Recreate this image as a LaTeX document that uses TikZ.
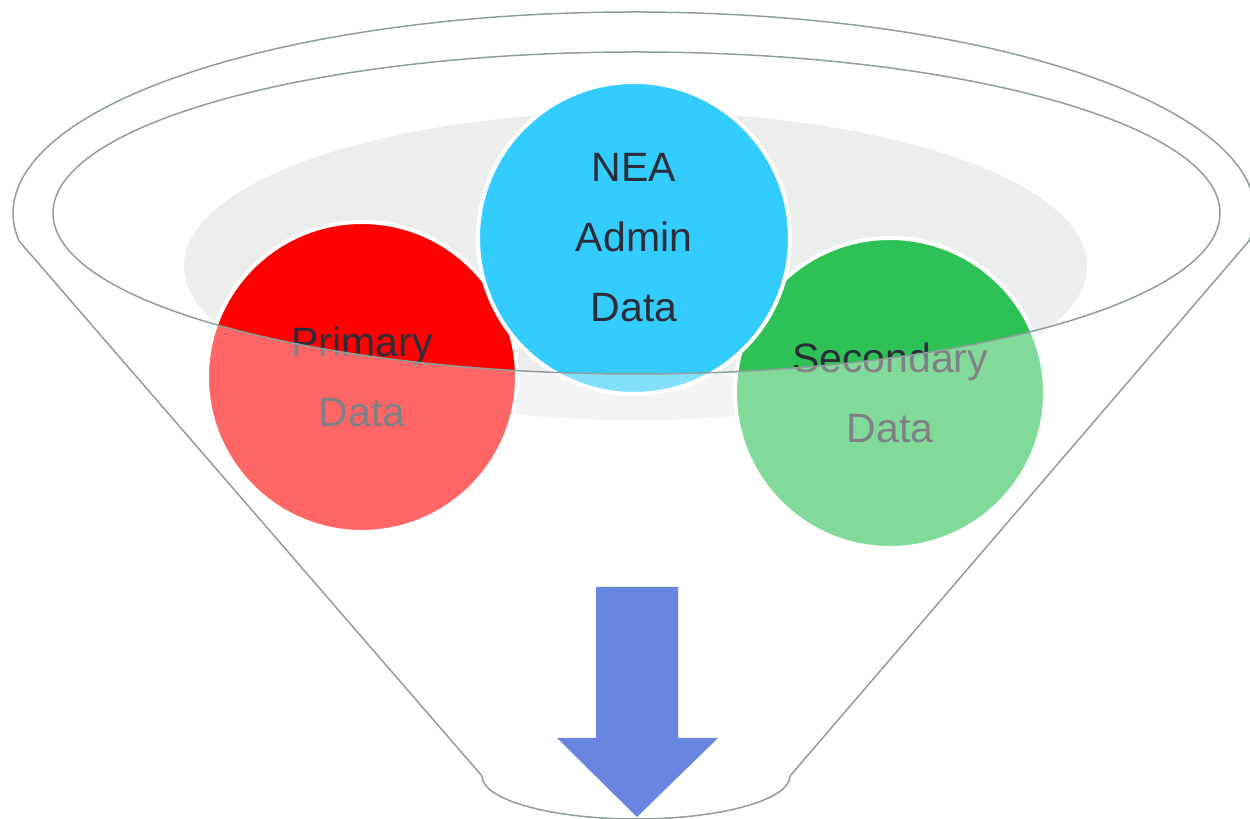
\documentclass[tikz,border=0pt]{standalone}
\usepackage{fontspec}
\setmainfont{Liberation Sans}
\definecolor{rimline}{RGB}{142,158,152}
\definecolor{backgray}{RGB}{236,238,235}
\definecolor{cred}{RGB}{255,0,0}
\definecolor{cblue}{RGB}{51,204,255}
\definecolor{cgreen}{RGB}{46,194,86}
\definecolor{textdark}{RGB}{43,45,56}
\definecolor{arrowblue}{RGB}{104,134,224}
\tikzset{
  rim/.style={draw=rimline, line width=1.5pt},
  bubble/.style={draw=white, line width=4pt},
  label/.style={align=center, text=textdark, inner sep=0pt,
    font=\fontsize{41}{70}\selectfont}
}
\begin{document}
\begin{tikzpicture}[x=1pt,y=1pt]
\useasboundingbox (0,0) rectangle (1250,819);
% back gray ellipse
\fill[backgray] (635.5,553) ellipse [x radius=451.5, y radius=154];
% circles
\filldraw[bubble, fill=cred] (362,442) circle [radius=155];
\filldraw[bubble, fill=cgreen] (890,426) circle [radius=155];
\filldraw[bubble, fill=cblue] (634,581) circle [radius=156];
% labels
\node[label] (primary) at (362,442) {Primary\\Data};
\node[label] (secondary) at (890,426) {Secondary\\Data};
\node[label] (nea) at (634,581) {NEA\\Admin\\Data};
% translucent front of funnel
\fill[white, opacity=0.4] (53,606) arc [start angle=180, end angle=360, x radius=583.5, y radius=161]
  -- (1248.96,578.03) -- (790,43)
  arc [start angle=360, end angle=180, x radius=154, y radius=43]
  -- (19.04,578.03) -- cycle;
% inner rim
\draw[rim] (636.5,606) ellipse [x radius=583.5, y radius=161];
% outer outline
\draw[rim, line join=round] (19.04,578.03) -- (482,43)
  arc [start angle=180, end angle=360, x radius=154, y radius=43]
  -- (1248.96,578.03)
  arc [start angle=-8, end angle=188, x radius=621, y radius=201] -- cycle;
% arrow
\fill[arrowblue] (596,232) -- (678,232) -- (678,81) -- (718,81) -- (637,2)
  -- (557,81) -- (596,81) -- cycle;
\end{tikzpicture}
\end{document}
